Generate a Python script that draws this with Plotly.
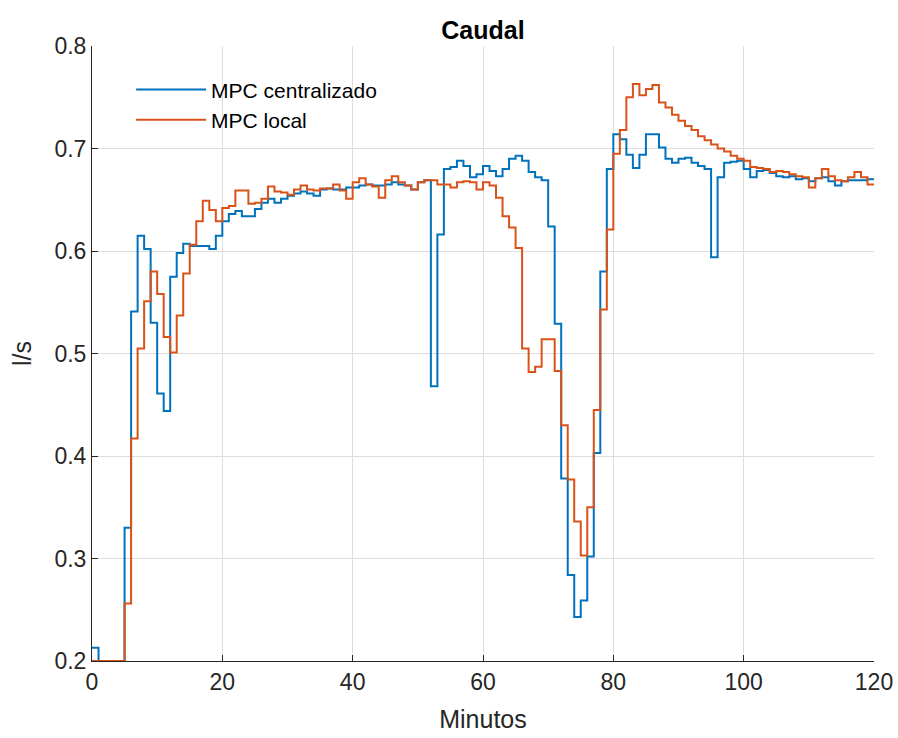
import plotly.graph_objects as go

minutes = list(range(0, 121))

mpc_centralizado = [
    0.213, 0.200, 0.200, 0.200, 0.200, 0.330, 0.541, 0.615, 0.602, 0.530,
    0.461, 0.444, 0.575, 0.598, 0.607, 0.605, 0.605, 0.605, 0.602, 0.615,
    0.629, 0.636, 0.639, 0.634, 0.634, 0.641, 0.647, 0.651, 0.647, 0.651,
    0.654, 0.656, 0.658, 0.656, 0.654, 0.660, 0.661, 0.660, 0.660, 0.662,
    0.662, 0.664, 0.665, 0.664, 0.664, 0.665, 0.667, 0.665, 0.664, 0.660,
    0.667, 0.669, 0.468, 0.616, 0.680, 0.682, 0.688, 0.683, 0.672, 0.675,
    0.683, 0.678, 0.673, 0.680, 0.690, 0.693, 0.688, 0.677, 0.672, 0.669,
    0.624, 0.529, 0.378, 0.284, 0.243, 0.259, 0.302, 0.403, 0.580, 0.680,
    0.714, 0.709, 0.694, 0.681, 0.694, 0.714, 0.714, 0.701, 0.690, 0.686,
    0.690, 0.691, 0.686, 0.683, 0.680, 0.594, 0.672, 0.686, 0.687, 0.688,
    0.680, 0.672, 0.678, 0.679, 0.676, 0.673, 0.672, 0.673, 0.670, 0.671,
    0.668, 0.671, 0.672, 0.668, 0.664, 0.668, 0.669, 0.669, 0.669, 0.670,
]

mpc_local = [
    0.200, 0.200, 0.200, 0.200, 0.200, 0.256, 0.417, 0.505, 0.551, 0.580,
    0.558, 0.516, 0.501, 0.537, 0.578, 0.606, 0.629, 0.649, 0.640, 0.629,
    0.642, 0.644, 0.659, 0.659, 0.646, 0.647, 0.651, 0.663, 0.658, 0.657,
    0.655, 0.660, 0.664, 0.660, 0.659, 0.661, 0.661, 0.665, 0.659, 0.651,
    0.667, 0.671, 0.665, 0.663, 0.652, 0.669, 0.673, 0.667, 0.664, 0.660,
    0.667, 0.669, 0.669, 0.665, 0.665, 0.662, 0.667, 0.668, 0.667, 0.660,
    0.667, 0.664, 0.652, 0.634, 0.623, 0.603, 0.505, 0.482, 0.487, 0.514,
    0.514, 0.483, 0.430, 0.377, 0.336, 0.303, 0.350, 0.445, 0.543, 0.621,
    0.695, 0.718, 0.750, 0.763, 0.752, 0.758, 0.762, 0.745, 0.740, 0.733,
    0.727, 0.722, 0.718, 0.712, 0.708, 0.704, 0.700, 0.697, 0.693, 0.690,
    0.688, 0.682, 0.681, 0.680, 0.677, 0.678, 0.677, 0.675, 0.673, 0.672,
    0.662, 0.671, 0.680, 0.673, 0.669, 0.668, 0.672, 0.677, 0.672, 0.665,
]

x_ticks = [0, 20, 40, 60, 80, 100, 120]
y_ticks = [0.2, 0.3, 0.4, 0.5, 0.6, 0.7, 0.8]
y_tick_labels = ["0.2", "0.3", "0.4", "0.5", "0.6", "0.7", "0.8"]

FONT = "Liberation Sans, Arial, sans-serif"
AX = "#262626"

fig = go.Figure()
fig.add_trace(go.Scatter(
    x=minutes, y=mpc_centralizado + [mpc_centralizado[-1]],
    mode="lines", line=dict(color="#0072BD", width=2, shape="hv"),
    name="MPC centralizado"))
fig.add_trace(go.Scatter(
    x=minutes, y=mpc_local + [mpc_local[-1]],
    mode="lines", line=dict(color="#D95319", width=2, shape="hv"),
    name="MPC local"))

fig.update_layout(
    width=898, height=738,
    margin=dict(l=92, r=24, t=46, b=77),
    paper_bgcolor="white", plot_bgcolor="white",
    font=dict(family=FONT, size=22, color=AX),
    title=dict(text="<b>Caudal</b>", x=(92 + 874) / 2 / 898, xanchor="center",
               y=1 - 30 / 738, yanchor="middle",
               font=dict(family=FONT, size=25, color="#000000")),
    showlegend=True,
    legend=dict(x=0.05, y=0.962, xanchor="left", yanchor="top",
                bgcolor="rgba(255,255,255,0)", borderwidth=0,
                font=dict(family=FONT, size=21, color="#000000"),
                itemwidth=70, tracegroupgap=0),
    xaxis=dict(range=[0, 120], tickmode="array", tickvals=x_ticks,
               automargin=False,
               showgrid=True, gridcolor="#dedede", gridwidth=1,
               zeroline=False, showline=True, linecolor=AX, linewidth=1,
               ticks="inside", ticklen=6, tickcolor=AX,
               tickfont=dict(family=FONT, size=23, color=AX),
               title=dict(text="Minutos", standoff=16,
                          font=dict(family=FONT, size=25, color=AX))),
    yaxis=dict(range=[0.2, 0.8], tickmode="array", tickvals=y_ticks,
               ticktext=y_tick_labels, automargin=False,
               showgrid=True, gridcolor="#dedede", gridwidth=1,
               zeroline=False, showline=True, linecolor=AX, linewidth=1,
               ticks="inside", ticklen=6, tickcolor=AX,
               tickfont=dict(family=FONT, size=23, color=AX),
               title=dict(text="l/s", standoff=15,
                          font=dict(family=FONT, size=25, color=AX))),
)

fig.write_html("out.html")
